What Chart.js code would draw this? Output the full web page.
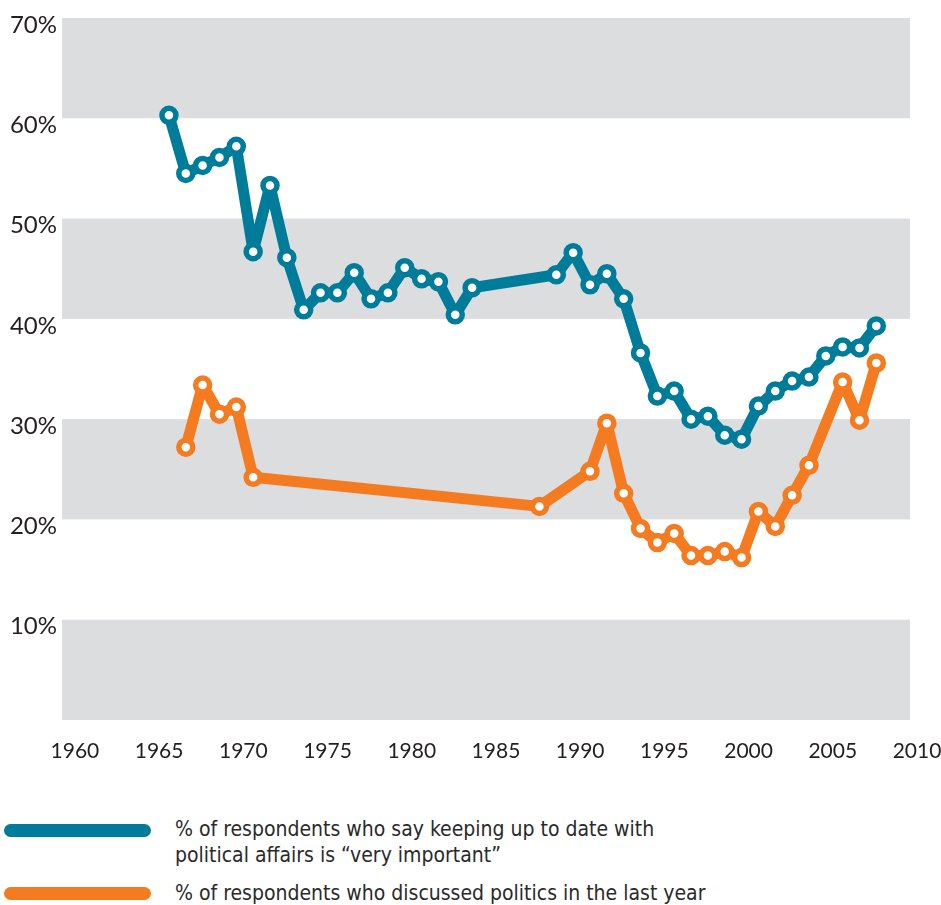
<!DOCTYPE html>
<html lang="en">
<head>
  <meta charset="UTF-8" />
  <title>Political interest</title>
  <script src="https://cdn.jsdelivr.net/npm/chart.js"></script>
  <style>
    body { margin: 0; background: #fff; width: 941px; height: 905px; overflow: hidden; position: relative; }
    #wrap { position: absolute; left: 0; top: 0; width: 941px; height: 775px; }
    .key { position: absolute; left: 0; font-family: 'DejaVu Sans Condensed', 'DejaVu Sans', sans-serif;
      font-size: 21px; line-height: 26px; color: #2b2a29; }
    .key .sw { position: absolute; left: 4px; width: 147px; height: 13px; border-radius: 7px; }
    .key .txt { position: absolute; left: 175px; white-space: nowrap; }
  </style>
</head>
<body>
  <div id="wrap"><canvas id="chart"></canvas></div>

  <div class="key" style="top:816px">
    <div class="sw" style="top:8px; background:#007c9b"></div>
    <div class="txt" style="top:0">% of respondents who say keeping up to date with<br>political affairs is “very important”</div>
  </div>
  <div class="key" style="top:880px">
    <div class="sw" style="top:7px; background:#f47b20"></div>
    <div class="txt" style="top:0">% of respondents who discussed politics in the last year</div>
  </div>

  <script>
    // data
    const xTicks = [1960, 1965, 1970, 1975, 1980, 1985, 1990, 1995, 2000, 2005, 2010];
    const yTicks = [10, 20, 30, 40, 50, 60, 70];
    const bands = [[60, 70], [40, 50], [20, 30], [0, 10]];

    const keepYears = [1966, 1967, 1968, 1969, 1970, 1971, 1972, 1973, 1974, 1975, 1976, 1977, 1978, 1979,
      1980, 1981, 1982, 1983, 1984, 1989, 1990, 1991, 1992, 1993, 1994, 1995, 1996, 1997, 1998, 1999,
      2000, 2001, 2002, 2003, 2004, 2005, 2006, 2007, 2008];
    const keepVals = [60.3, 54.5, 55.3, 56.1, 57.2, 46.7, 53.3, 46.1, 40.9, 42.6, 42.6, 44.6, 42.0, 42.6,
      45.1, 44.0, 43.7, 40.4, 43.1, 44.4, 46.6, 43.4, 44.5, 42.0, 36.6, 32.3, 32.8, 30.0, 30.3, 28.4,
      28.0, 31.3, 32.8, 33.8, 34.2, 36.3, 37.2, 37.1, 39.3];

    const discYears = [1967, 1968, 1969, 1970, 1971, 1988, 1991, 1992, 1993, 1994, 1995, 1996, 1997, 1998,
      1999, 2000, 2001, 2002, 2003, 2004, 2006, 2007, 2008];
    const discVals = [27.2, 33.4, 30.5, 31.2, 24.2, 21.3, 24.8, 29.6, 22.6, 19.1, 17.7, 18.6, 16.4, 16.4,
      16.8, 16.2, 20.8, 19.3, 22.4, 25.4, 33.7, 29.9, 35.6];

    const BLUE = '#007c9b', ORANGE = '#f47b20', BAND = '#dcdddf', INK = '#231f20';

    const pts = (xs, ys) => xs.map((x, i) => ({ x: x, y: ys[i] }));

    const bandPlugin = {
      id: 'bands',
      beforeDatasetsDraw(chart) {
        const { ctx, chartArea: a, scales: { y } } = chart;
        ctx.save();
        ctx.fillStyle = BAND;
        bands.forEach(([lo, hi]) => {
          const top = y.getPixelForValue(hi), bot = y.getPixelForValue(lo);
          ctx.fillRect(a.left, top, a.right - a.left, bot - top);
        });
        ctx.restore();
      }
    };

    const lineStyle = (color) => ({
      borderColor: color, borderWidth: 11, borderJoinStyle: 'round', borderCapStyle: 'round',
      pointRadius: 7, pointBorderWidth: 5.5, pointBackgroundColor: '#fff', pointBorderColor: color,
      tension: 0, fill: false
    });

    new Chart(document.getElementById('chart'), {
      type: 'line',
      data: {
        datasets: [
          Object.assign({ label: 'keeping up to date', data: pts(keepYears, keepVals) }, lineStyle(BLUE)),
          Object.assign({ label: 'discussed politics', data: pts(discYears, discVals) }, lineStyle(ORANGE))
        ]
      },
      options: {
        responsive: true, maintainAspectRatio: false, animation: false,
        layout: { padding: { top: 18, right: 31, left: 0, bottom: 0 } },
        plugins: { legend: { display: false }, tooltip: { enabled: false } },
        scales: {
          x: {
            type: 'linear', min: 1959.65, max: 2010,
            afterBuildTicks: s => { s.ticks = xTicks.map(v => ({ value: v })); },
            afterFit: s => { s.height = 55; s.paddingLeft = 0; s.paddingRight = 0; },
            grid: { display: false, drawTicks: false }, border: { display: false },
            ticks: { color: INK, font: { family: 'Lato', size: 21 }, padding: 19, labelOffset: 7, maxRotation: 0,
              callback: v => String(v) }
          },
          y: {
            min: 0, max: 70,
            afterBuildTicks: s => { s.ticks = yTicks.map(v => ({ value: v })); },
            afterFit: s => { s.width = 62; s.paddingTop = 0; s.paddingBottom = 0; },
            grid: { display: false, drawTicks: false }, border: { display: false },
            ticks: { color: INK, font: { family: 'Lato', size: 24 }, padding: 5, labelOffset: 7,
              callback: v => v + '%' }
          }
        }
      },
      plugins: [bandPlugin]
    });
  </script>
</body>
</html>
